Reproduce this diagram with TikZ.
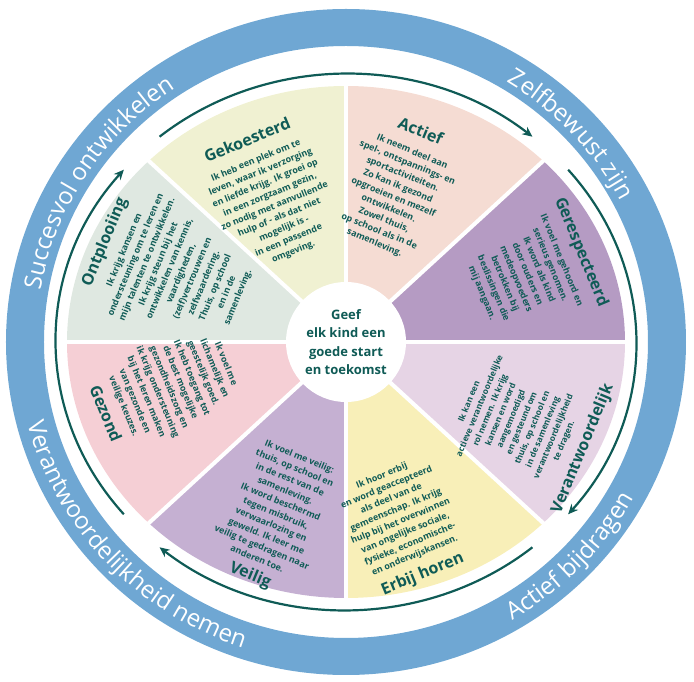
\documentclass[tikz,border=0pt]{standalone}
\usepackage{fontspec}
\setmainfont{Open Sans}
\usetikzlibrary{arrows.meta,decorations.text}

\definecolor{ringblue}{HTML}{6FA7D3}
\definecolor{darkteal}{HTML}{0F5B56}
\definecolor{actief}{HTML}{F5DCD3}
\definecolor{koester}{HTML}{F0F1D2}
\definecolor{ontplooi}{HTML}{DFE8E1}
\definecolor{gezond}{HTML}{F5CFD5}
\definecolor{veilig}{HTML}{C5B0D2}
\definecolor{erbij}{HTML}{F8EFB8}
\definecolor{verantw}{HTML}{E6D4E5}
\definecolor{respect}{HTML}{B59BC3}

\newcommand{\ringfont}{\fontsize{24}{24}\selectfont}
\newcommand{\wedgetitle}[1]{{\fontsize{16}{18}\selectfont\bfseries #1}}

\begin{document}
\begin{tikzpicture}[x=1pt, y=1pt,
  wedgetext/.style={text=darkteal, align=center, inner sep=0pt, font=\fontsize{8.9}{12.3}\selectfont\bfseries},
  cyclearrow/.style={draw=darkteal, line width=2.2pt, -{Stealth[length=10pt, width=9pt]}},
  ringtext/.style={decorate, decoration={text along path, text align=center, text color=white, text={|\ringfont|#1}}}]

\useasboundingbox (-346,-340) rectangle (348,342);

% Outer ring
\fill[ringblue, even odd rule] (0,0) ellipse [x radius=340, y radius=333]
  (0,0) ellipse [x radius=302, y radius=296];

% Wedges
\foreach \a/\c in {0/respect, 45/actief, 90/koester, 135/ontplooi, 180/gezond, 225/veilig, 270/erbij, 315/verantw}
  \fill[\c] (0,0) -- (\a:279 and 256) arc[start angle=\a, delta angle=45, x radius=279, y radius=256] -- cycle;
\foreach \a in {0,45,...,315}
  \draw[white, line width=4pt] (0,0) -- (\a:281 and 258);

% Centre
\node[circle, fill=white, minimum size=120pt, inner sep=0pt, text=darkteal, align=center,
  font=\fontsize{13}{18.5}\selectfont\bfseries] (centre) at (0,0) {Geef\\elk kind een\\goede start\\en toekomst};

% Cycle arrows
\foreach \s in {130,40,-50,-140}
  \draw[cyclearrow] (\s:290 and 268) arc[start angle=\s, delta angle=-80, x radius=290, y radius=268];

% Ring texts
\path[ringtext={Zelfbewust zijn}] (86:310 and 304) arc[start angle=86, end angle=0, x radius=310, y radius=304];
\path[ringtext={Succesvol ontwikkelen}] (199:310 and 304) arc[start angle=199, end angle=95, x radius=310, y radius=304];
\path[ringtext={Actief bijdragen}] (-90:329 and 322) arc[start angle=-90, end angle=2, x radius=329, y radius=322];
\path[ringtext={Verantwoordelijkheid nemen}] (174:329 and 322) arc[start angle=174, end angle=272, x radius=329, y radius=322];

% Wedge texts
\node[wedgetext, rotate=22.5] (gekoesterd) at (-76,147) {\wedgetitle{Gekoesterd}\\[7pt]
  Ik heb een plek om te\\leven, waar ik verzorging\\en liefde krijg. Ik groei op\\in een zorgzaam gezin,\\
  zo nodig met aanvullende\\hulp of - als dat niet\\mogelijk is -\\in een passende\\omgeving.};
\node[wedgetext, rotate=-22.5] (actief) at (52,156) {\wedgetitle{Actief}\\[7pt]
  Ik neem deel aan\\spel-, ontspannings- en\\sportactiviteiten.\\Zo kan ik gezond\\opgroeien en mezelf\\
  ontwikkelen.\\Zowel thuis,\\op school als in de\\samenleving.};
\node[wedgetext, rotate=-67.5] (gerespecteerd) at (187,70) {\wedgetitle{Gerespecteerd}\\[7pt]
  Ik voel me gehoord en\\serieus genomen.\\Ik word als kind\\door ouders en\\medeopvoeders\\
  betrokken bij\\beslissingen die\\mij aangaan.};
\node[wedgetext, rotate=67.5, font=\fontsize{8.4}{11.4}\selectfont\bfseries] (verantwoordelijk) at (182,-84)
  {Ik kan een\\actieve verantwoordelijke\\
  rol nemen. Ik krijg\\kansen en word\\aangemoedigd\\en gesteund om\\thuis, op school en\\
  in de samenleving\\verantwoordelijkheid\\te dragen.\\[7pt]\wedgetitle{Verantwoordelijk}};
\node[wedgetext, rotate=22.5] (erbij) at (57,-185) {Ik hoor erbij\\en word geaccepteerd\\als deel van de\\
  gemeenschap. Ik krijg\\hulp bij het overwinnen\\van ongelijke sociale,\\fysieke, economische-\\
  en onderwijskansen.\\[7pt]\wedgetitle{Erbij horen}};
\node[wedgetext, rotate=-22.5] (veilig) at (-72,-176) {Ik voel me veilig:\\thuis, op school en\\
  in de rest van de\\samenleving.\\Ik word beschermd\\tegen misbruik,\\verwaarlozing en\\
  geweld. Ik leer me\\veilig te gedragen naar\\anderen toe.\\[7pt]\wedgetitle{Veilig}};
\node[wedgetext, rotate=-67.5] (gezond) at (-181,-47) {Ik voel me\\lichamelijk en\\geestelijk goed.\\
  Ik heb toegang tot\\de best mogelijke\\gezondheidszorg en\\ik krijg ondersteuning\\
  bij het leren maken\\van gezonde en\\veilige keuzes.\\[7pt]\wedgetitle{Gezond}};
\node[wedgetext, rotate=67.5] (ontplooiing) at (-176,73) {\wedgetitle{Ontplooiing}\\[7pt]
  Ik krijg kansen en\\ondersteuning om te leren en\\mijn talenten te ontwikkelen.\\
  Ik krijg steun bij het\\ontwikkelen van kennis,\\vaardigheden,\\(zelf)vertrouwen en\\
  zelfwaardering.\\Thuis, op school\\en in de\\samenleving.};

\end{tikzpicture}
\end{document}
